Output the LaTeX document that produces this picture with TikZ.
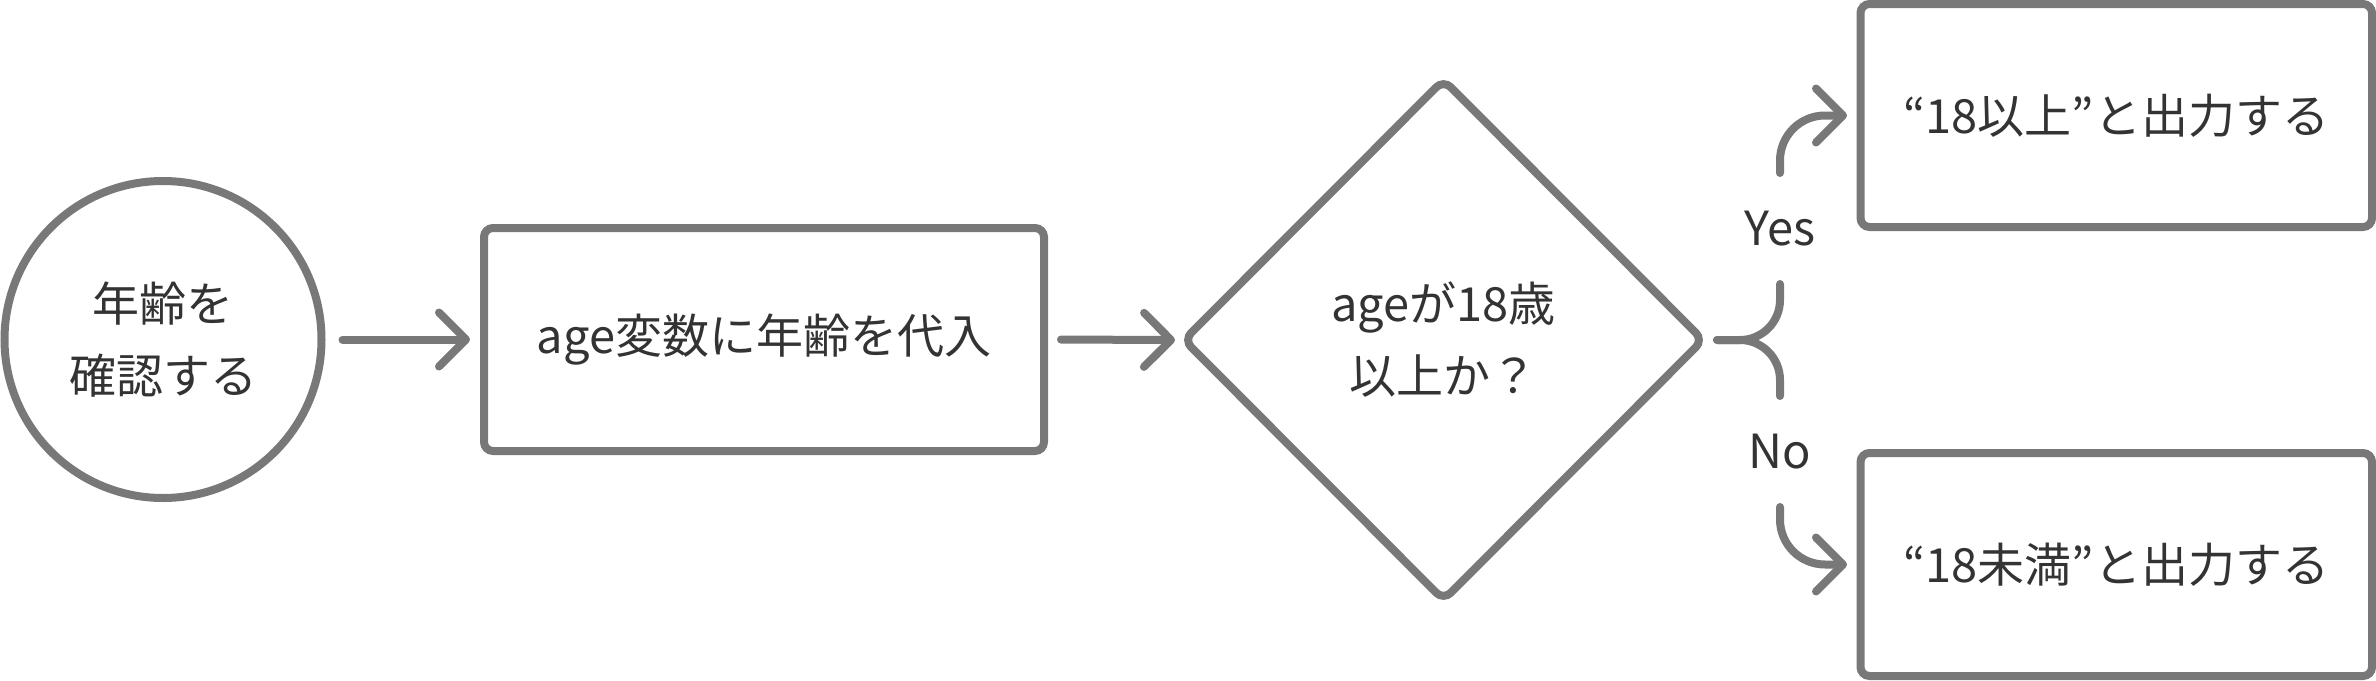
\documentclass[tikz,border=0pt]{standalone}
\usepackage{fontspec}
\setmainfont{Noto Sans CJK JP}
\usetikzlibrary{shapes.geometric,arrows.meta}
\definecolor{edgegray}{HTML}{787878}
\definecolor{textgray}{HTML}{333333}
\begin{document}
\begin{tikzpicture}[x=0.5pt,y=-0.5pt,
  every node/.style={text=textgray, font=\fontsize{23.5pt}{36pt}\selectfont, align=center, outer sep=0pt},
  shapeline/.style={draw=edgegray, line width=4pt},
  startnode/.style={shapeline, circle, minimum size=158.5pt, inner sep=0pt},
  procbox/.style={shapeline, rectangle, rounded corners=4.5pt, inner sep=0pt, minimum height=111.5pt},
  decision/.style={shapeline, diamond, minimum width=259.5pt, minimum height=260pt, inner sep=0pt, rounded corners=5pt},
  flow/.style={draw=edgegray, line width=4pt, line cap=round, line join=round, -{Straight Barb[length=13.5pt, width=27pt, round]}},
  branch/.style={draw=edgegray, line width=4pt, line cap=round, line join=round},
  edgelabel/.style={inner sep=0pt, minimum height=55.5pt},
]
\useasboundingbox (0,0) rectangle (2376,680);

\node[startnode] (start) at (163,339.5) {年齢を\\確認する};
\node[procbox, minimum width=280pt] (assign) at (764,339.5) {age変数に年齢を代入};
\node[decision] (cond) at (1443.5,340) {ageが18歳\\以上か？};
\node[procbox, minimum width=255.75pt] (yesbox) at (2116.25,115.5) {“18以上”と出力する};
\node[procbox, minimum width=255.75pt] (nobox) at (2116.25,564.5) {“18未満”と出力する};

\node[edgelabel] (yeslbl) at (1780,228.5) {Yes};
\node[edgelabel] (nolbl) at (1780,451.5) {No};

\draw[flow, shorten <=10.5pt, shorten >=7pt] (start.east) -- (assign.west);
\draw[flow, shorten <=8.5pt, shorten >=4.5pt] (assign.east) -- (cond.west);

\draw[branch, shorten <=7pt] (cond.east) -- (1740,340)
  .. controls (1762.1,340) and (1780,322.1) .. (1780,300) -- (yeslbl.south);
\draw[flow, shorten >=6.75pt] (yeslbl.north) -- (1780,160.5)
  .. controls (1780,135.6) and (1800.1,115.5) .. (1825,115.5) -- (yesbox.west);

\draw[branch, shorten <=7pt] (cond.east) -- (1740,340)
  .. controls (1762.1,340) and (1780,357.9) .. (1780,380) -- (nolbl.north);
\draw[flow, shorten >=6.75pt] (nolbl.south) -- (1780,519.5)
  .. controls (1780,544.4) and (1800.1,564.5) .. (1825,564.5) -- (nobox.west);
\end{tikzpicture}
\end{document}
